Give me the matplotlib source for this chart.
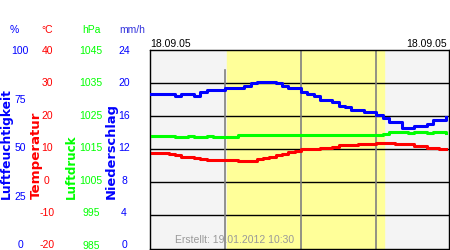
import matplotlib
matplotlib.use("Agg")
import matplotlib.pyplot as plt
import numpy as np

plt.rcParams['font.family'] = ['Liberation Sans', 'DejaVu Sans']
plt.rcParams['axes.unicode_minus'] = False

# half-hourly readings, 18.09.05
hours = np.arange(0, 24, 0.5)
humidity = [78, 78, 78, 78, 77, 78, 78, 77, 79, 80, 80, 80,
            80.7, 80.7, 80.7, 82, 83.2, 84, 84, 84, 83.2, 82, 80.7, 80.7,
            79, 77.8, 76.8, 74.8, 74.8, 74, 71.6, 71.4, 69.8, 69.8, 68.9, 68.9,
            67.3, 65.6, 63.9, 63.9, 60.6, 60.6, 61.7, 61.7, 62.7, 64.7, 64.7, 66.4]
temperature = [9.0, 9.0, 8.8, 8.6, 8.3, 7.7, 7.7, 7.5, 7.0, 6.8, 6.75, 6.75,
               6.75, 6.75, 6.5, 6.35, 6.4, 7.0, 7.3, 7.6, 8.3, 8.6, 9.1, 9.5,
               10.0, 10.0, 10.2, 10.5, 10.5, 10.7, 11.3, 11.3, 11.3, 11.5, 11.6, 11.6,
               12.0, 12.0, 12.0, 11.6, 11.6, 11.6, 11.1, 11.1, 10.5, 10.5, 10.0, 10.0]
pressure = [1019.1, 1019.1, 1019.1, 1019.1, 1018.8, 1018.8, 1018.9, 1018.8, 1018.8, 1018.9, 1018.8, 1018.8,
            1018.6, 1018.6, 1019.4, 1019.3, 1019.4, 1019.4, 1019.3, 1019.4, 1019.4, 1019.3, 1019.4, 1019.4,
            1019.3, 1019.2, 1019.2, 1019.3, 1019.2, 1019.2, 1019.2, 1019.2, 1019.2, 1019.3, 1019.2, 1019.2,
            1019.3, 1019.6, 1020.1, 1020.1, 1020.1, 1020.0, 1020.1, 1020.1, 1020.0, 1020.1, 1020.1, 1019.8]

hum_ticks = [0, 25, 50, 75, 100]
temp_ticks = [-20, -10, 0, 10, 20, 30, 40]
pres_ticks = [985, 995, 1005, 1015, 1025, 1035, 1045]
rain_ticks = [0, 4, 8, 12, 16, 20, 24]
time_ticks = [6, 12, 18]
time_labels = ['06:00', '12:00', '18:00']
sunrise, sunset = 6.1, 18.6

BLUE = '#0000ff'
RED = '#ff0000'
GREEN = '#00ff00'

fig = plt.figure(figsize=(4.5, 2.5), dpi=100)
ax = fig.add_axes([150 / 450, 1.5 / 250, 299 / 450, 198.5 / 250])
ax.set_facecolor('#f4f4f4')
ax.set_xlim(0, 23.77)
ax.set_ylim(0, 100)
ax.set_yticks([])

ax.axvspan(sunrise, sunset, color='#ffff99', zorder=0)
for v in [100 / 6 * i for i in range(1, 6)]:
    ax.axhline(v, color='black', lw=1, zorder=1)
ax.axvline(6, ymax=0.9, color='#808080', lw=1.2, zorder=1)
for t in time_ticks[1:]:
    ax.axvline(t, color='#808080', lw=1.2, zorder=1)

ax.set_xticks(time_ticks)
ax.set_xticklabels(time_labels)
ax.tick_params(axis='x', top=True, bottom=False, labeltop=True, labelbottom=False,
               length=0, pad=11, labelsize=7.5, labelcolor='#808080')

ax_t = ax.twinx()
ax_t.set_ylim(-20, 40)
ax_p = ax.twinx()
ax_p.set_ylim(985, 1045)
ax_r = ax.twinx()
ax_r.set_ylim(0, 24)
for a in (ax_t, ax_p, ax_r):
    a.set_yticks([])
    a.set_xticks([])

ax_t.step(hours, temperature, where='post', color=RED, lw=2.2, zorder=3)
ax_p.step(hours, pressure, where='post', color=GREEN, lw=2.2, zorder=3)
ax_r.step(hours, np.array(humidity) * 0.24, where='post', color=BLUE, lw=2.2, zorder=3)

# tick label columns (the labels sit on a slightly shorter scale than the grid)
columns = [((0, 100), hum_ticks, BLUE, 130), ((-20, 40), temp_ticks, RED, 103),
           ((985, 1045), pres_ticks, GREEN, 59), ((0, 24), rain_ticks, BLUE, 26)]
for lims, ticks, col, pad_px in columns:
    la = fig.add_axes([150 / 450, 5.5 / 250, 299 / 450, 194.5 / 250], facecolor='none')
    la.set_ylim(*lims)
    la.set_yticks(ticks)
    la.set_xticks([])
    for s in la.spines.values():
        s.set_visible(False)
    la.tick_params(axis='y', left=True, labelleft=True, length=0,
                   pad=pad_px * 0.72, labelsize=7.5, labelcolor=col)
    for lab in la.get_yticklabels():
        lab.set_horizontalalignment('center')

# unit headers and axis titles
for x, txt, col in [(14, '%', BLUE), (47, '°C', RED), (91, 'hPa', GREEN), (132, 'mm/h', '#3333dd')]:
    fig.text(x / 450, 1 - 30 / 250, txt, color=col, fontsize=7.5, ha='center', va='center')
for x, txt, col, fs in [(6, 'Luftfeuchtigkeit', BLUE, 8.8), (36, 'Temperatur', RED, 9.6),
                        (71, 'Luftdruck', GREEN, 8.6), (111.5, 'Niederschlag', BLUE, 9.4)]:
    fig.text(x / 450, 1 - 199 / 250, txt, color=col, fontsize=fs, fontweight='bold',
             family='DejaVu Sans', rotation=90, ha='center', va='bottom')

fig.text(150 / 450, 1 - 44 / 250, '18.09.05', fontsize=7.5, ha='left', va='center')
fig.text(447 / 450, 1 - 44 / 250, '18.09.05', fontsize=7.5, ha='right', va='center')
ax.text(0.083, 0.045, 'Erstellt: 19.01.2012 10:30', transform=ax.transAxes,
        fontsize=7.5, color='#999999', ha='left', va='center', zorder=4)

fig.savefig('out.png', dpi=100)
